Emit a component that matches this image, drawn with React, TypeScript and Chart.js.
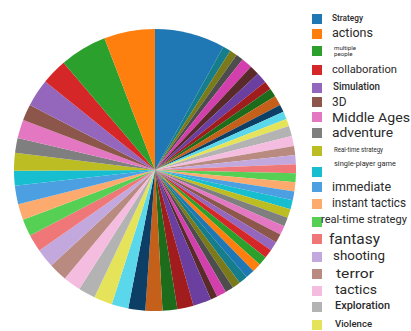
import React, { useEffect, useLayoutEffect, useRef } from "react";
import { Chart, registerables } from "chart.js";
Chart.register(...registerables);

// Visible legend categories (legend order; the legend continues below the frame)
const categories = [
  "Strategy", "actions", "multiple people", "collaboration", "Simulation", "3D",
  "Middle Ages", "adventure", "Real-time strategy", "single-player game", "immediate",
  "instant tactics", "real-time strategy", "fantasy", "shooting", "terror", "tactics",
  "Exploration", "Violence",
];

// Slice values in legend order (counter-clockwise from the top)
const seriesValues = [
  29, 21, 19.4, 10.7, 11.4, 6.7, 7.7, 6.1, 7.3, 6.1,
  7.6, 6.6, 7, 7.2, 7.8, 7.6, 7.3, 7, 7.6, 6.9,
  7, 7, 6.1, 6.7, 7.5, 2.8, 4, 3.4, 3.4, 3.6,
  3.7, 3.7, 3.7, 3.7, 3.7, 3.7, 3.7, 3.7, 3.7, 3.7,
  3.7, 3.7, 3.7, 3.7, 3.7, 3.7, 4.2, 4.2, 3, 3.2,
  3.1, 4.1, 3.5, 3.5, 4.5, 4, 4.5, 3, 3.1, 3.3,
];

const baseColors = ["#1f77b4", "#ff7f0e", "#2ca02c", "#d62728", "#9467bd", "#8c564b", "#e377c2", "#7f7f7f", "#bcbd22", "#17becf"];
const lightColors = ["#4c9fe0", "#fcaa6e", "#55d055", "#ef7777", "#c2a8dc", "#b88a80", "#f4bde0", "#b3b3b3", "#e4e35a", "#5ad7ea"];
const darkColors = ["#0d3f66", "#c4601a", "#1c6c1c", "#a11c1c", "#6b3fa0", "#5a2a2a", "#d43fae", "#4d4d4d", "#7a7a1a", "#157d8c"];
const palette = [...baseColors, ...lightColors, ...darkColors, ...baseColors, ...lightColors, ...darkColors];

// legend layout styles: text centre y, swatch centre y, font size, weight, text left x, text width
const legendStyle = [
  { ty: 18, sy: 18.5, fs: 9.5, fw: 500, tx: 332, tw: 31 },
  { ty: 33, sy: 33.5, fs: 12.5, fw: 400, tx: 332, tw: 41 },
  { ty: 51, sy: 50.5, fs: 6, fw: 400, tx: 334, tw: 22, lines: true },
  { ty: 69, sy: 69.5, fs: 11.5, fw: 400, tx: 331.5, tw: 65 },
  { ty: 87, sy: 87.5, fs: 10, fw: 500, tx: 333, tw: 47 },
  { ty: 102, sy: 102, fs: 13, fw: 400, tx: 332, tw: 14.5 },
  { ty: 117, sy: 117, fs: 13.5, fw: 400, tx: 332, tw: 78 },
  { ty: 133, sy: 133, fs: 13, fw: 400, tx: 332, tw: 61 },
  { ty: 150, sy: 151, fs: 6.5, fw: 400, tx: 334, tw: 49 },
  { ty: 165, sy: 171.5, fs: 7, fw: 400, tx: 334, tw: 62 },
  { ty: 187, sy: 187, fs: 13, fw: 400, tx: 332, tw: 59 },
  { ty: 203, sy: 204, fs: 12, fw: 400, tx: 332, tw: 74 },
  { ty: 220, sy: 221.5, fs: 10.5, fw: 400, tx: 321, tw: 86 },
  { ty: 239, sy: 239, fs: 14, fw: 400, tx: 329, tw: 51 },
  { ty: 256, sy: 256.5, fs: 13, fw: 400, tx: 333, tw: 52 },
  { ty: 273, sy: 274, fs: 13.5, fw: 400, tx: 336, tw: 38 },
  { ty: 290, sy: 291, fs: 13, fw: 400, tx: 335, tw: 42 },
  { ty: 306, sy: 306.5, fs: 10, fw: 500, tx: 335, tw: 55 },
  { ty: 324, sy: 325, fs: 9.5, fw: 500, tx: 335, tw: 37 },
];

export default function App() {
  const ref = useRef<HTMLCanvasElement>(null);
  const textRefs = useRef<(HTMLSpanElement | null)[]>([]);

  useLayoutEffect(() => {
    const fit = () => {
      textRefs.current.forEach((el, i) => {
        if (!el) return;
        el.style.transform = "translateY(-50%)";
        const w = el.getBoundingClientRect().width;
        const k = w > 0 ? legendStyle[i].tw / w : 1;
        el.style.transform = `translateY(-50%) scaleX(${k})`;
      });
    };
    fit();
    if ((document as any).fonts?.ready) (document as any).fonts.ready.then(fit);
  }, []);

  useEffect(() => {
    if (!ref.current) return;
    const n = seriesValues.length;
    const idx = [0, ...Array.from({ length: n - 1 }, (_, i) => n - 1 - i)];
    const chart = new Chart(ref.current, {
      type: "pie",
      data: {
        labels: idx.map((i) => categories[i] ?? ""),
        datasets: [{
          data: idx.map((i) => seriesValues[i]),
          backgroundColor: idx.map((i) => palette[i]),
          borderWidth: 0,
        }],
      },
      options: {
        responsive: false,
        animation: false,
        layout: { padding: 0 },
        plugins: { legend: { display: false }, tooltip: { enabled: false } },
      },
    });
    return () => chart.destroy();
  }, []);

  return (
    <div style={{ position: "absolute", left: 0, top: 0, width: 411, height: 331, overflow: "hidden", background: "#fff", fontFamily: "Roboto, sans-serif" }}>
      <canvas ref={ref} width={282} height={282} style={{ position: "absolute", left: 14, top: 29, width: 282, height: 282 }} />
      {categories.map((c, i) => {
        const s = legendStyle[i] as any;
        return (
          <React.Fragment key={i}>
            <div style={{ position: "absolute", left: 312, top: s.sy - 5, width: 10, height: 10, background: palette[i] }} />
            <span
              ref={(el) => { textRefs.current[i] = el; }}
              style={{
                position: "absolute", left: s.tx, top: s.ty, display: "inline-block",
                transform: "translateY(-50%)", transformOrigin: "left center",
                fontSize: s.fs, fontWeight: s.fw, color: "#2a2a2a", lineHeight: 1.05,
                whiteSpace: s.lines ? "pre" : "nowrap",
              }}
            >
              {s.lines ? c.replace(" ", "\n") : c}
            </span>
          </React.Fragment>
        );
      })}
    </div>
  );
}
